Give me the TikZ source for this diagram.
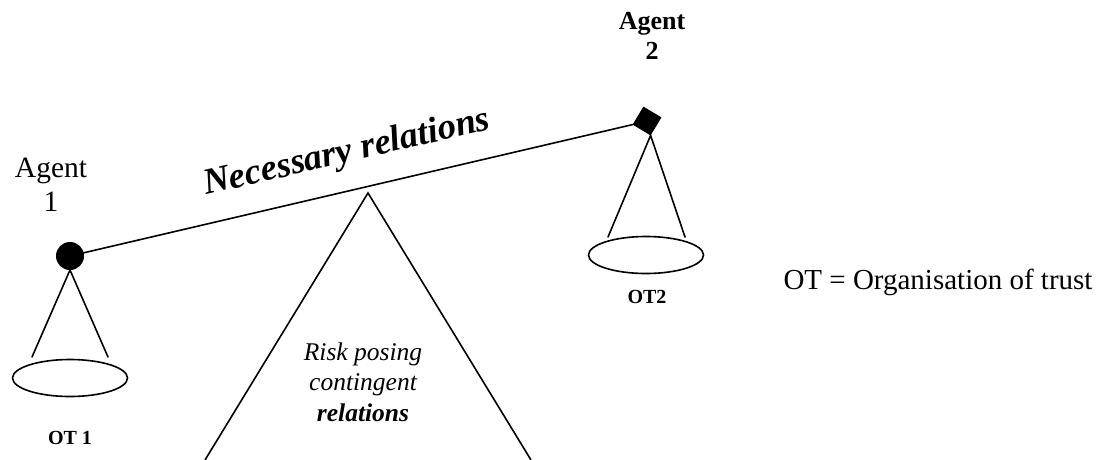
\documentclass[tikz,border=0pt]{standalone}
\usepackage{fontspec}
\setmainfont{Liberation Serif}
\usetikzlibrary{shapes.geometric,calc}
\begin{document}
\begin{tikzpicture}[x=1pt,y=-1pt,
  ln/.style={line width=1.6pt,line cap=round},
  plate/.style={draw,ellipse,line width=1.6pt,minimum width=115pt,minimum height=37pt,inner sep=0pt},
  lbl/.style={align=center,inner sep=0pt},
]
\useasboundingbox (0,0) rectangle (1105,459);
% agents
\node[circle,fill=black,draw,line width=1pt,minimum size=27pt,inner sep=0pt] (a1) at (70,256) {};
\node[rectangle,fill=black,draw,line width=1pt,minimum size=20pt,inner sep=0pt,rotate=59] (a2) at (647,121) {};
% beam
\draw[ln] (a1) -- (a2.north west);
% plates
\node[plate] (o1) at (70,378) {};
\node[plate] (o2) at (646,255) {};
\coordinate (o1l) at ($(o1.center)+(-38,-21)$);
\coordinate (o1r) at ($(o1.center)+(38,-21)$);
\coordinate (o2l) at ($(o2.center)+(-38,-18)$);
\coordinate (o2r) at ($(o2.center)+(39,-18)$);
\draw[ln] (o1l) -- (a1.south) -- (o1r);
\draw[ln] (o2l) -- (a2.south west) -- (o2r);
% triangle
\coordinate (apex) at (368,193);
\coordinate (bl) at (205,460);
\coordinate (br) at (531,460);
\draw[line width=1.6pt] (bl) -- (apex) -- (br);
% labels
\node[lbl,font=\fontsize{29.5}{34}\selectfont] (t1) at (51,185) {Agent\\1};
\node[lbl,font=\fontsize{26}{30}\selectfont\bfseries] (t2) at (652,36) {Agent\\2};
\node[lbl,font=\fontsize{20}{22}\selectfont\bfseries] (ot1) at (70,438) {OT 1};
\node[lbl,font=\fontsize{20}{22}\selectfont\bfseries] (ot2) at (647,297) {OT2};
\node[lbl,font=\fontsize{29}{34}\selectfont] (leg) at (938,282) {OT = Organisation of trust};
\node[lbl,font=\fontsize{25.5}{30.5}\selectfont\itshape] (risk) at (363,382) {Risk posing\\contingent\\\textbf{relations}};
\node[inner sep=0pt,anchor=base,rotate=13,font=\fontsize{36.5}{40}\selectfont\bfseries\itshape] (nec) at (349,162) {Necessary relations};
\end{tikzpicture}
\end{document}
